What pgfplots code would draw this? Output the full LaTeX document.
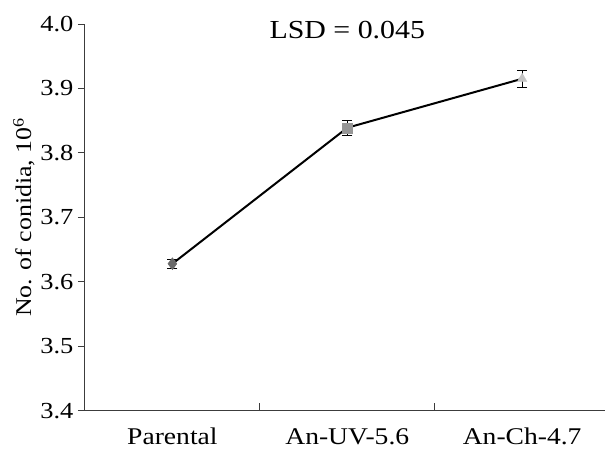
\documentclass[border=0pt]{standalone}
\usepackage{fontspec}
\setmainfont{Liberation Serif}[FakeStretch=1.15]
\usepackage{pgfplots}
\pgfplotsset{compat=1.18}
\definecolor{mk1}{RGB}{105,105,105}
\definecolor{mk2}{RGB}{150,150,150}
\definecolor{mk3}{RGB}{195,195,195}
\definecolor{axc}{RGB}{60,60,60}
\begin{document}
\begin{tikzpicture}
\begin{axis}[
  name=ax,
  scale only axis,
  width=520pt, height=387pt,
  xmin=-0.5, xmax=2.471,
  ymin=3.4, ymax=4.0,
  axis x line=bottom, axis y line=left,
  axis line style={-, draw=axc, line width=0.9pt},
  tick style={draw=axc, line width=0.9pt},
  tick align=outside,
  xtick={0,1,2},
  xticklabels={Parental, An-UV-5.6, An-Ch-4.7},
  major x tick style={draw=none},
  minor xtick={0.5,1.5},
  minor tick length=8pt,
  minor x tick style={yshift=8pt},
  major tick length=7pt,
  ytick={3.4,3.5,3.6,3.7,3.8,3.9,4.0},
  /pgf/number format/assume math mode=true,
  yticklabel style={/pgf/number format/fixed, /pgf/number format/fixed zerofill, /pgf/number format/precision=1, font=\fontsize{23}{25}\selectfont, xshift=-1pt},
  xticklabel style={font=\fontsize{24}{26}\selectfont, yshift=-7pt},
  every axis y label/.style={at={(axis description cs:0,0.5)}, rotate=90, anchor=center, yshift=61pt},
  ylabel={No. of conidia, 10\textsuperscript{6}},
  ylabel style={font=\fontsize{22.5}{24}\selectfont},
  clip=false,
]
\addplot[black, line width=2pt, no markers] coordinates {(0,3.628) (1,3.839) (2,3.915)};
\addplot[only marks, mark=diamond*, mark size=6pt, mark options={fill=mk1, draw=mk1},
  error bars/.cd, y dir=both, y explicit, error bar style={black, line width=0.8pt},
  error mark options={rotate=90, mark size=5pt, black, line width=0.8pt}]
  coordinates {(0,3.628) +- (0,0.007)};
\addplot[only marks, mark=square*, mark size=5pt, mark options={fill=mk2, draw=mk2},
  error bars/.cd, y dir=both, y explicit, error bar style={black, line width=0.8pt},
  error mark options={rotate=90, mark size=5pt, black, line width=0.8pt}]
  coordinates {(1,3.839) +- (0,0.012)};
\addplot[only marks, mark=triangle*, mark size=5.5pt, mark options={fill=mk3, draw=mk3},
  error bars/.cd, y dir=both, y explicit, error bar style={black, line width=0.8pt},
  error mark options={rotate=90, mark size=5pt, black, line width=0.8pt}]
  coordinates {(2,3.915) +- (0,0.013)};
\node[font=\fontsize{26}{28}\selectfont] at (axis cs:1,3.99) {LSD = 0.045};
\end{axis}
\path (ax.south west) ++(-85pt,-39pt) rectangle ++(605pt,450pt);
\end{tikzpicture}
\end{document}
